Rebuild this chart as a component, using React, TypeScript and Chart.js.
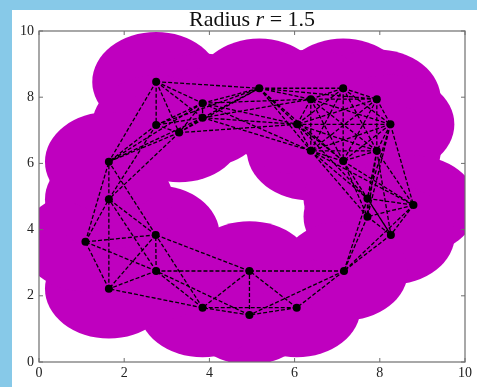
import React, { useEffect, useRef } from "react";
import { Chart, registerables } from "chart.js";

Chart.register(...registerables);

// Ball radius of the cover
const RADIUS = 1.5;

// Point cloud
const pointX = [
  2.75, 3.84, 3.84, 2.75, 3.29, 5.17,
  7.14, 7.93, 8.25, 7.93, 7.14, 6.38, 6.06, 6.38,
  7.71, 8.79, 7.71, 8.26, 7.16,
  6.05, 4.94, 4.94, 3.84, 2.75, 2.74, 1.64, 1.09, 1.64, 1.64,
];
const pointY = [
  8.47, 7.82, 7.38, 7.16, 6.93, 8.27,
  8.27, 7.94, 7.18, 6.38, 6.07, 6.38, 7.18, 7.94,
  4.94, 4.74, 4.39, 3.84, 2.75,
  1.64, 1.42, 2.75, 1.64, 2.75, 3.84, 2.21, 3.63, 4.92, 6.05,
];

const tickValues = [0, 2, 4, 6, 8, 10];
const titleParts = [
  { text: "Radius ", italic: false },
  { text: "r", italic: true },
  { text: " = 1.5", italic: false },
];

const DISK_COLOR = "#bf00bf";
const FRAME_COLOR = "#6e6e6e";
const SERIF = "'Liberation Serif', 'DejaVu Serif', serif";

const diskPlugin = {
  id: "disks",
  beforeDatasetsDraw(chart: any) {
    const { ctx, chartArea, scales } = chart;
    const xs = scales.x;
    const ys = scales.y;
    ctx.save();
    ctx.beginPath();
    ctx.rect(chartArea.left, chartArea.top, chartArea.right - chartArea.left, chartArea.bottom - chartArea.top);
    ctx.clip();
    ctx.fillStyle = DISK_COLOR;
    for (let i = 0; i < pointX.length; i++) {
      const cx = xs.getPixelForValue(pointX[i]);
      const cy = ys.getPixelForValue(pointY[i]);
      const rx = Math.abs(xs.getPixelForValue(pointX[i] + RADIUS) - cx);
      const ry = Math.abs(ys.getPixelForValue(pointY[i] + RADIUS) - cy);
      ctx.beginPath();
      ctx.ellipse(cx, cy, rx, ry, 0, 0, Math.PI * 2);
      ctx.fill();
    }
    ctx.restore();
  },
};

const framePlugin = {
  id: "frame",
  afterDatasetsDraw(chart: any) {
    const { ctx, chartArea, scales } = chart;
    const { left, right, top, bottom } = chartArea;
    ctx.save();
    ctx.strokeStyle = FRAME_COLOR;
    ctx.lineWidth = 1.2;
    ctx.strokeRect(left, top, right - left, bottom - top);
    ctx.lineWidth = 1;
    const tl = 4;
    ctx.beginPath();
    for (const v of tickValues) {
      const px = scales.x.getPixelForValue(v);
      ctx.moveTo(px, bottom);
      ctx.lineTo(px, bottom - tl);
      ctx.moveTo(px, top);
      ctx.lineTo(px, top + tl);
      const py = scales.y.getPixelForValue(v);
      ctx.moveTo(left, py);
      ctx.lineTo(left + tl, py);
      ctx.moveTo(right, py);
      ctx.lineTo(right - tl, py);
    }
    ctx.stroke();
    ctx.restore();
  },
};

const titlePlugin = {
  id: "customTitle",
  afterDraw(chart: any) {
    const { ctx, chartArea } = chart;
    ctx.save();
    ctx.fillStyle = "#111";
    ctx.textBaseline = "alphabetic";
    const size = 22;
    const fonts = titleParts.map((p) => `${p.italic ? "italic " : ""}${size}px ${SERIF}`);
    let total = 0;
    const widths = titleParts.map((p, i) => {
      ctx.font = fonts[i];
      const w = ctx.measureText(p.text).width;
      total += w;
      return w;
    });
    let x = (chartArea.left + chartArea.right) / 2 - total / 2;
    const baseline = chartArea.top - 5;
    titleParts.forEach((p, i) => {
      ctx.font = fonts[i];
      ctx.textAlign = "left";
      ctx.fillText(p.text, x, baseline);
      x += widths[i];
    });
    ctx.restore();
  },
};

export default function App() {
  const ref = useRef<HTMLCanvasElement | null>(null);

  useEffect(() => {
    if (!ref.current) return;
    const points = pointX.map((x, i) => ({ x, y: pointY[i] }));
    const edges: { x: number; y: number }[] = [];
    for (let i = 0; i < points.length; i++) {
      for (let j = i + 1; j < points.length; j++) {
        const d = Math.hypot(points[i].x - points[j].x, points[i].y - points[j].y);
        if (d <= 2 * RADIUS) {
          edges.push(points[i], points[j], { x: NaN, y: NaN });
        }
      }
    }

    const tickFont = { family: SERIF, size: 14 };
    const chart = new Chart(ref.current, {
      type: "scatter",
      data: {
        datasets: [
          {
            label: "points",
            data: points,
            pointRadius: 4,
            pointBackgroundColor: "#000",
            pointBorderColor: "#000",
            pointBorderWidth: 0,
            showLine: false,
          },
          {
            label: "edges",
            data: edges,
            showLine: true,
            spanGaps: false,
            fill: false,
            pointRadius: 0,
            borderColor: "#000",
            borderWidth: 1.3,
            borderDash: [4, 2],
          },
        ],
      },
      options: {
        animation: false,
        responsive: false,
        devicePixelRatio: 1,
        layout: { padding: { top: 31, right: 12, left: 0, bottom: 0 } },
        plugins: {
          legend: { display: false },
          tooltip: { enabled: false },
          title: { display: false },
        },
        events: [],
        scales: {
          x: {
            type: "linear",
            min: 0,
            max: 10,
            afterBuildTicks: (s: any) => {
              s.ticks = tickValues.map((v) => ({ value: v }));
            },
            ticks: { font: tickFont, color: "#222", padding: 3, maxRotation: 0 },
            grid: { display: false, drawTicks: false },
            border: { display: false },
            afterFit: (s: any) => {
              s.height = 25;
            },
          },
          y: {
            type: "linear",
            min: 0,
            max: 10,
            afterBuildTicks: (s: any) => {
              s.ticks = tickValues.map((v) => ({ value: v }));
            },
            ticks: { font: tickFont, color: "#222", padding: 5 },
            grid: { display: false, drawTicks: false },
            border: { display: false },
            afterFit: (s: any) => {
              s.width = 39;
            },
          },
        },
      },
      plugins: [diskPlugin, framePlugin, titlePlugin],
    } as any);
    return () => chart.destroy();
  }, []);

  return (
    <div
      style={{
        position: "fixed",
        left: 0,
        top: 0,
        width: 477,
        height: 387,
        background: "#87c9e8",
        overflow: "hidden",
      }}
    >
      <div
        style={{
          position: "absolute",
          left: 12,
          top: 10,
          right: 0,
          bottom: 0,
          background: "#ffffff",
        }}
      />
      <canvas
        ref={ref}
        width={477}
        height={387}
        style={{ position: "absolute", left: 0, top: 0, width: 477, height: 387 }}
      />
    </div>
  );
}
